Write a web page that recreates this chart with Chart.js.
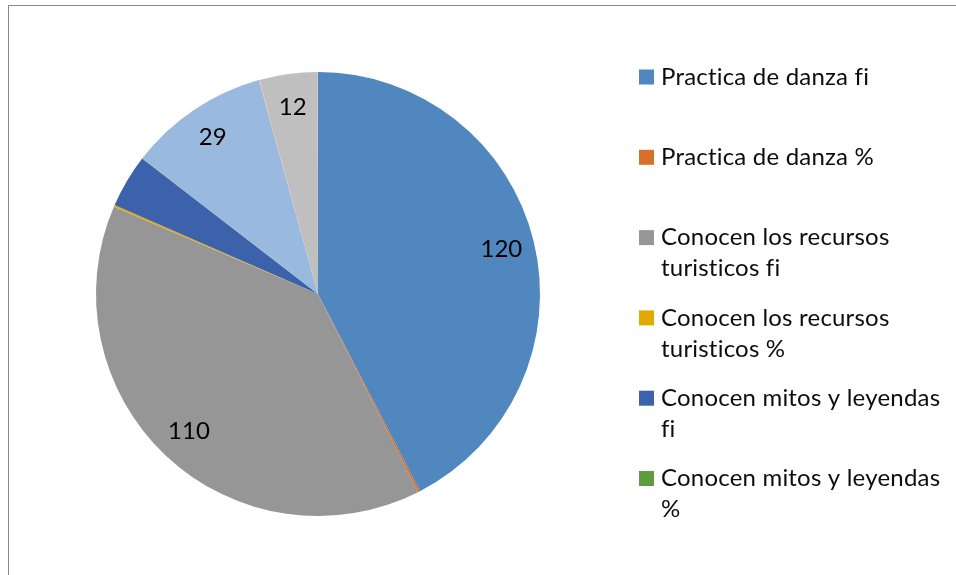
<!DOCTYPE html>
<html>
<head>
<meta charset="utf-8">
<script src="https://cdn.jsdelivr.net/npm/chart.js@4.4.0/dist/chart.umd.min.js"></script>
<style>
  html, body { margin: 0; padding: 0; background: #fff; overflow: hidden; }
  #frame {
    position: absolute; left: 8px; top: 5px; width: 1000px; height: 700px;
    border-top: 1px solid #8a8a8a; border-left: 1px solid #8a8a8a;
  }
  #wrap { position: absolute; left: 0; top: 0; width: 956px; height: 575px; }
</style>
</head>
<body>
<div id="frame"></div>
<div id="wrap"><canvas id="chart"></canvas></div>
<script>
// series (the % entries are fractions, so they show as slivers)
const categories = [
  'Practica de danza fi',
  'Practica de danza %',
  'Conocen los recursos turisticos fi',
  'Conocen los recursos turisticos %',
  'Conocen mitos y leyendas fi',
  'Conocen mitos y leyendas %',
  'Conocen costumbres fi',
  'Conocen costumbres %',
  'Participan en festividades fi',
  'Participan en festividades %'
];
const values = [120, 0.43, 110, 0.39, 11, 0.04, 29, 0.10, 12, 0.04];
// which slices carry a value label in the original
const labelled = [true, false, true, false, false, false, true, false, true, false];
const colors = [
  '#4f87be', '#d6702b', '#969696', '#e2aa00', '#3b62aa',
  '#5e9c3e', '#9ab9df', '#efb28e', '#bfbfbf', '#ffd966'
];

const FONT = '24px Lato';

// value labels inside the slices
const sliceLabels = {
  id: 'sliceLabels',
  afterDatasetsDraw(chart) {
    const ctx = chart.ctx;
    const data = chart.data.datasets[0].data;
    ctx.save();
    ctx.font = FONT;
    ctx.fillStyle = '#000';
    ctx.textAlign = 'center';
    ctx.textBaseline = 'middle';
    chart.getDatasetMeta(0).data.forEach((arc, i) => {
      if (!labelled[i]) return;
      const p = arc.getProps(['x', 'y', 'startAngle', 'endAngle', 'outerRadius'], true);
      const mid = (p.startAngle + p.endAngle) / 2;
      const r = p.outerRadius * 0.85;
      ctx.fillText(String(data[i]), p.x + Math.cos(mid) * r, p.y + Math.sin(mid) * r);
    });
    ctx.restore();
  }
};

function wrapText(ctx, text, maxWidth) {
  const words = text.split(' ');
  const lines = [];
  let line = '';
  words.forEach(w => {
    const test = line ? line + ' ' + w : w;
    if (line && ctx.measureText(test).width > maxWidth) {
      lines.push(line);
      line = w;
    } else {
      line = test;
    }
  });
  if (line) lines.push(line);
  return lines;
}

// legend on the right, wrapped like the original, cut off where it runs out of room
const sideLegend = {
  id: 'sideLegend',
  afterDraw(chart) {
    const ctx = chart.ctx;
    const bg = chart.data.datasets[0].backgroundColor;
    const boxX = 639, textX = 661, pitch = 80.3, lineH = 31, box = 15;
    ctx.save();
    ctx.font = FONT;
    ctx.letterSpacing = '0.2px'; // also keeps "fi" from turning into a ligature
    ctx.textAlign = 'left';
    ctx.textBaseline = 'middle';
    let y = 77;
    for (let i = 0; i < chart.data.labels.length; i++) {
      const lines = wrapText(ctx, chart.data.labels[i], 290);
      if (y + (lines.length - 1) * lineH > 540) break;
      ctx.fillStyle = bg[i];
      ctx.fillRect(boxX, y - box / 2, box, box);
      ctx.fillStyle = '#0d0d0d';
      lines.forEach((ln, k) => ctx.fillText(ln, textX, y + k * lineH));
      y += pitch;
    }
    ctx.restore();
  }
};

new Chart(document.getElementById('chart'), {
  type: 'pie',
  data: {
    labels: categories,
    datasets: [{
      data: values,
      backgroundColor: colors,
      borderWidth: 0
    }]
  },
  options: {
    responsive: true,
    maintainAspectRatio: false,
    animation: false,
    layout: { padding: { left: 96, right: 416, top: 72, bottom: 59 } },
    plugins: {
      legend: { display: false },
      tooltip: { enabled: false }
    }
  },
  plugins: [sliceLabels, sideLegend]
});
</script>
</body>
</html>
